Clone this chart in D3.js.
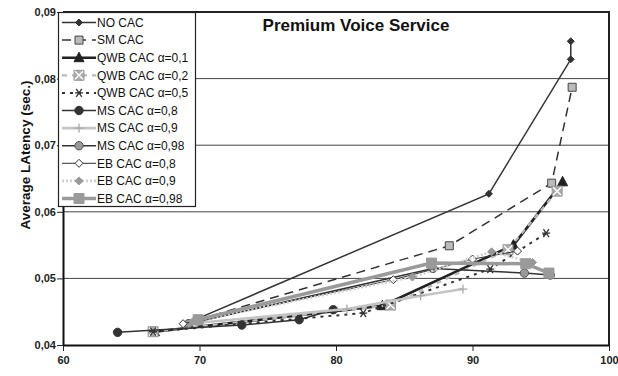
<!DOCTYPE html>
<html>
<head>
<meta charset="utf-8">
<script src="https://cdn.jsdelivr.net/npm/d3@7"></script>
<style>
  body { margin: 0; background: #fff; }
  text { font-family: "Liberation Sans", Arial, sans-serif; }
</style>
</head>
<body>
<svg class="chart" width="618" height="376"></svg>
<script>
const seriesNames = ['NO CAC', 'SM CAC', 'QWB CAC α=0,1', 'QWB CAC α=0,2', 'QWB CAC α=0,5',
  'MS CAC α=0,8', 'MS CAC α=0,9', 'MS CAC α=0,98', 'EB CAC α=0,8', 'EB CAC α=0,9', 'EB CAC α=0,98'];

// admission rate (x) per series
const xValues = [
  [69.9, 91.2, 97.2, 97.2],
  [69.9, 88.3, 95.8, 97.3],
  [66.7, 83.4, 93.0, 96.6],
  [66.6, 84.0, 92.6, 96.2],
  [66.6, 82.0, 91.3, 95.4],
  [64.0, 73.1, 77.3, 79.8],
  [69.2, 80.8, 86.2, 89.3],
  [69.2, 87.1, 93.8, 95.7],
  [68.8, 84.2, 90.0, 93.3],
  [69.5, 85.6, 91.4, 94.4],
  [69.9, 87.0, 93.9, 95.6]
];

// average latency (y) per series
const yValues = [
  [0.0440, 0.0627, 0.0829, 0.0856],
  [0.0438, 0.0549, 0.0643, 0.0787],
  [0.0420, 0.0459, 0.0550, 0.0645],
  [0.0420, 0.0460, 0.0543, 0.0631],
  [0.0420, 0.0448, 0.0514, 0.0568],
  [0.0419, 0.0430, 0.0438, 0.0453],
  [0.0432, 0.0454, 0.0474, 0.0484],
  [0.0432, 0.0515, 0.0508, 0.0505],
  [0.0432, 0.0498, 0.0529, 0.0541],
  [0.0435, 0.0502, 0.0540, 0.0524],
  [0.0438, 0.0523, 0.0522, 0.0508]
];

const xTicks = [60, 70, 80, 90, 100];
const yTicks = [0.04, 0.05, 0.06, 0.07, 0.08, 0.09];

// line + marker look for each series
const styles = [
  { stroke: '#333', width: 1.5, dash: null, marker: 'diamond', fill: '#333', mstroke: '#333', size: 3.5 },
  { stroke: '#333', width: 1.5, dash: '9,6', marker: 'square', fill: '#bbb', mstroke: '#444', size: 4 },
  { stroke: '#222', width: 2.6, dash: null, marker: 'triangle', fill: '#222', mstroke: '#222', size: 5 },
  { stroke: '#bbb', width: 2.2, dash: '5,5', marker: 'xsquare', fill: '#aaa', mstroke: '#fff', size: 5 },
  { stroke: '#333', width: 2, dash: '3,5', marker: 'asterisk', fill: 'none', mstroke: '#333', size: 4 },
  { stroke: '#333', width: 1.5, dash: null, marker: 'circle', fill: '#333', mstroke: '#333', size: 4.2 },
  { stroke: '#c4c4c4', width: 2.6, dash: null, marker: 'plus', fill: 'none', mstroke: '#aaa', size: 4.5 },
  { stroke: '#333', width: 1.5, dash: null, marker: 'circle', fill: '#999', mstroke: '#555', size: 4.2 },
  { stroke: '#333', width: 1, dash: null, marker: 'diamond', fill: '#fff', mstroke: '#333', size: 4 },
  { stroke: '#d0d0d0', width: 2.6, dash: '2,2', marker: 'diamond', fill: '#999', mstroke: '#999', size: 4 },
  { stroke: '#9a9a9a', width: 3.5, dash: null, marker: 'square', fill: '#9a9a9a', mstroke: '#9a9a9a', size: 5 }
];

const svg = d3.select('.chart');
const margin = { top: 12, right: 9, bottom: 31, left: 63 };
const width = +svg.attr('width') - margin.left - margin.right;
const height = +svg.attr('height') - margin.top - margin.bottom;

const x = d3.scaleLinear().domain([60, 100]).range([margin.left, margin.left + width]);
const y = d3.scaleLinear().domain([0.04, 0.09]).range([margin.top + height, margin.top]);
const fmt = d => d3.format('.2f')(d).replace('.', ',');

function markerPath(type, s) {
  switch (type) {
    case 'diamond': return `M0,${-s}L${s},0L0,${s}L${-s},0Z`;
    case 'square':
    case 'xsquare': return `M${-s},${-s}H${s}V${s}H${-s}Z`;
    case 'triangle': return `M0,${-s * 1.1}L${s},${s * 0.8}L${-s},${s * 0.8}Z`;
    case 'circle': return d3.arc()({ innerRadius: 0, outerRadius: s, startAngle: 0, endAngle: 2 * Math.PI });
    case 'plus': return `M${-s},0H${s}M0,${-s}V${s}`;
    case 'asterisk': return `M${-s},0H${s}M${-s * 0.7},${-s}L${s * 0.7},${s}M${s * 0.7},${-s}L${-s * 0.7},${s}`;
    default: return '';
  }
}

function drawMarker(g, st, cx, cy) {
  g.append('path')
    .attr('transform', `translate(${cx},${cy})`)
    .attr('d', markerPath(st.marker, st.size))
    .attr('fill', st.fill)
    .attr('stroke', st.marker === 'xsquare' ? '#999' : st.mstroke)
    .attr('stroke-width', st.marker === 'asterisk' || st.marker === 'plus' ? 1.3 : 1);
  if (st.marker === 'xsquare') {
    const s = st.size - 1;
    g.append('path')
      .attr('transform', `translate(${cx},${cy})`)
      .attr('d', `M${-s},${-s}L${s},${s}M${s},${-s}L${-s},${s}`)
      .attr('stroke', '#fff')
      .attr('stroke-width', 1.4);
  }
}

// gridlines
svg.append('g')
  .selectAll('line')
  .data(yTicks.filter(d => d > 0.04 && d < 0.09))
  .enter()
  .append('line')
  .attr('x1', margin.left)
  .attr('x2', margin.left + width)
  .attr('y1', d => y(d))
  .attr('y2', d => y(d))
  .attr('stroke', '#444')
  .attr('stroke-width', 1);

// frame top / right
svg.append('path')
  .attr('d', `M${margin.left},${margin.top}H${margin.left + width}V${margin.top + height}`)
  .attr('fill', 'none')
  .attr('stroke', '#222')
  .attr('stroke-width', 2);

// axes
const xAxis = svg.append('g')
  .attr('transform', `translate(0,${margin.top + height})`)
  .call(d3.axisBottom(x).tickValues(xTicks).tickSize(6).tickSizeOuter(0).tickFormat(d3.format('d')));
const yAxis = svg.append('g')
  .attr('transform', `translate(${margin.left},0)`)
  .call(d3.axisLeft(y).tickValues(yTicks).tickSize(6).tickSizeOuter(0).tickFormat(fmt));
[xAxis, yAxis].forEach((a) => {
  a.select('.domain').attr('stroke', '#111').attr('stroke-width', 2);
  a.selectAll('.tick line').attr('stroke', '#222');
  a.selectAll('.tick text')
    .attr('fill', '#222')
    .style('font-family', '"Liberation Sans", Arial, sans-serif')
    .style('font-size', '11px')
    .style('font-weight', 'bold');
});
xAxis.selectAll('.tick text').attr('dy', '0.95em');
yAxis.selectAll('.tick text').attr('x', -7);

// series
const line = d3.line().x(d => x(d[0])).y(d => y(d[1]));
seriesNames.forEach((name, i) => {
  const st = styles[i];
  const pts = xValues[i].map((v, j) => [v, yValues[i][j]]);
  const g = svg.append('g').attr('class', 'series');
  g.append('path')
    .datum(pts)
    .attr('d', line)
    .attr('fill', 'none')
    .attr('stroke', st.stroke)
    .attr('stroke-width', st.width)
    .attr('stroke-dasharray', st.dash);
  pts.forEach(p => drawMarker(g, st, x(p[0]), y(p[1])));
});

// legend
const legend = svg.append('g');
legend.append('rect')
  .attr('x', 58.5)
  .attr('y', 12.5)
  .attr('width', 137)
  .attr('height', 194)
  .attr('fill', '#fff')
  .attr('stroke', '#222')
  .attr('stroke-width', 1.2);
seriesNames.forEach((name, i) => {
  const st = styles[i];
  const ly = 22.5 + i * 17.6;
  const g = legend.append('g');
  g.append('line')
    .attr('x1', 62).attr('x2', 96)
    .attr('y1', ly).attr('y2', ly)
    .attr('stroke', st.stroke)
    .attr('stroke-width', st.width)
    .attr('stroke-dasharray', st.dash);
  drawMarker(g, st, 79, ly);
  g.append('text')
    .attr('x', 97)
    .attr('y', ly)
    .attr('dy', '0.36em')
    .attr('font-size', 12)
    .attr('fill', '#111')
    .text(name);
});

// title and y label
svg.append('text')
  .attr('x', 356)
  .attr('y', 31)
  .attr('text-anchor', 'middle')
  .attr('font-size', 17)
  .attr('font-weight', 'bold')
  .attr('fill', '#111')
  .text('Premium Voice Service');

svg.append('text')
  .attr('transform', 'translate(30,155) rotate(-90)')
  .attr('text-anchor', 'middle')
  .attr('font-size', 13.5)
  .attr('font-weight', 'bold')
  .attr('fill', '#111')
  .text('Average LAtency (sec.)');
</script>
</body>
</html>
